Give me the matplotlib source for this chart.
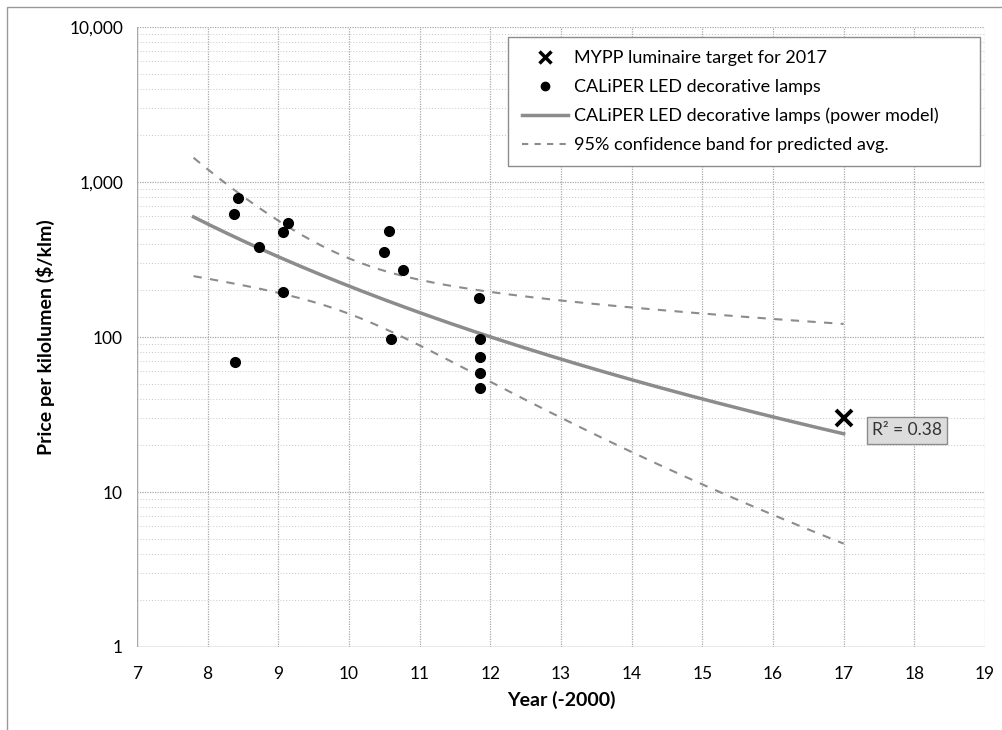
import numpy as np
import matplotlib
matplotlib.use("Agg")
import matplotlib.pyplot as plt
from matplotlib.ticker import FixedLocator, FuncFormatter, NullFormatter
from matplotlib.lines import Line2D
from matplotlib.patches import Rectangle

plt.rcParams['font.family'] = ['Lato', 'DejaVu Sans']

# CALiPER decorative lamp samples: year offset from 2000, price in $/klm
lamp_year = [8.43, 8.37, 9.14, 9.06, 8.73, 10.56, 10.50, 10.77, 9.06, 10.60,
             8.39, 11.84, 11.86, 11.85, 11.85, 11.85]
lamp_price = [785, 618, 541, 477, 381, 483, 353, 270, 196, 97,
              68.7, 178, 97.5, 74.6, 58.6, 47.1]

# MYPP luminaire price target
target_year = [17]
target_price = [30]

fit_range = [7.8, 17]
r2_text = "R\u00b2 = 0.38"
t_crit = 2.145  # two-sided 95%, 14 dof

# power model: ln(price) = ln(a) + b * ln(year)
lx = np.log(lamp_year)
ly = np.log(lamp_price)
b, ln_a = np.polyfit(lx, ly, 1)
n = len(lx)
resid = ly - (ln_a + b * lx)
s = np.sqrt(np.sum(resid ** 2) / (n - 2))
sxx = np.sum((lx - lx.mean()) ** 2)

xs = np.linspace(fit_range[0], fit_range[1], 200)
lxs = np.log(xs)
pred = ln_a + b * lxs
half = t_crit * s * np.sqrt(1 / n + (lxs - lx.mean()) ** 2 / sxx)

fig = plt.figure(figsize=(10.03, 7.30), dpi=100)
ax = fig.add_axes([0.1366, 0.1137, 0.8454, 0.8493])

grid_c = '#a8a8a8'
ax.set_yscale('log')
ax.set_xlim(7, 19)
ax.set_ylim(1, 10000)
ax.xaxis.set_major_locator(FixedLocator(range(7, 20)))
ax.yaxis.set_major_locator(FixedLocator([1, 10, 100, 1000, 10000]))
ax.yaxis.set_minor_locator(FixedLocator([m * 10 ** k for k in range(4) for m in range(2, 10)]))
ax.yaxis.set_minor_formatter(NullFormatter())
ax.yaxis.set_major_formatter(FuncFormatter(lambda v, p: f"{v:,.0f}"))
ax.grid(True, which='major', axis='both', color=grid_c, linestyle=(0, (1, 1)), linewidth=0.9)
ax.grid(True, which='minor', axis='y', color='#c8c8c8', linestyle=(0, (1, 2)), linewidth=0.7)
ax.tick_params(which='both', length=0, labelsize=12.5, pad=10)
ax.tick_params(axis='x', pad=14)
for sp in ax.spines.values():
    sp.set_visible(False)
ax.axvline(7, color=grid_c, lw=1)
ax.axhline(1, color=grid_c, lw=1)

ax.plot(xs, np.exp(pred), color='#8c8c8c', lw=2.5, zorder=3)
ax.plot(xs, np.exp(pred + half), color='#8c8c8c', lw=1.5, ls=(0, (4, 4)), zorder=3)
ax.plot(xs, np.exp(pred - half), color='#8c8c8c', lw=1.5, ls=(0, (4, 4)), zorder=3)
ax.plot(lamp_year, lamp_price, 'o', color='black', ms=7, zorder=4)
ax.plot(target_year, target_price, 'x', color='black', ms=11, mew=2.8, zorder=5)

ax.text(17.9, 25, r2_text, fontsize=12.5, ha='center', va='center', color='#333333',
        bbox=dict(boxstyle='square,pad=0.3', fc='#dcdcdc', ec='#8c8c8c', lw=1))

ax.set_xlabel('Year (-2000)', fontsize=14, fontweight='bold', labelpad=6)
ax.set_ylabel('Price per kilolumen ($/klm)', fontsize=14, fontweight='bold', labelpad=10)

handles = [
    Line2D([], [], marker='x', color='black', ls='none', ms=9, mew=2.5),
    Line2D([], [], marker='o', color='black', ls='none', ms=6),
    Line2D([], [], color='#8c8c8c', lw=2.5),
    Line2D([], [], color='#8c8c8c', lw=1.5, ls=(0, (3, 3))),
]
labels = ['MYPP luminaire target for 2017', 'CALiPER LED decorative lamps',
          'CALiPER LED decorative lamps (power model)', '95% confidence band for predicted avg.']
leg = ax.legend(handles, labels, loc='upper left', bbox_to_anchor=(0.4375, 0.7, 0.5566, 0.284),
                mode='expand', fontsize=13, frameon=True, fancybox=False, edgecolor='#8c8c8c',
                framealpha=1, handlelength=2.6, handletextpad=0.3, labelspacing=0.7,
                borderpad=0.75, borderaxespad=0)
leg.get_frame().set_linewidth(1)
leg.set_zorder(6)

# chart area border
fig.add_artist(Rectangle((0.007, -0.01), 1.1, 1.0, transform=fig.transFigure,
                         fill=False, ec='#9a9a9a', lw=1))

fig.savefig('out.png', dpi=100)
